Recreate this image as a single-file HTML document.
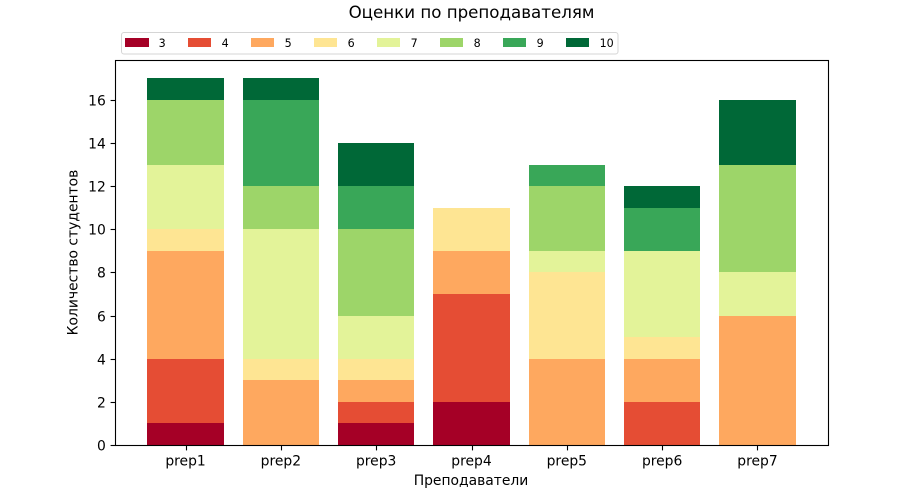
<!DOCTYPE html>
<html>
<head>
<meta charset="utf-8">
<style>
html,body{margin:0;padding:0;background:#fff;}
svg{display:block;}
text{font-family:"DejaVu Sans","Liberation Sans",sans-serif;fill:#000;}
</style>
</head>
<body>
<svg id="chart" width="919" height="500" viewBox="0 0 919 500" xmlns="http://www.w3.org/2000/svg">
<rect x="0" y="0" width="919" height="500" fill="#ffffff"/>
<text x="471.5" y="18" font-size="16.67" text-anchor="middle">Оценки по преподавателям</text>
<g id="bars" shape-rendering="crispEdges"></g>
<g id="axes"></g>
<text x="471" y="485" font-size="13.89" text-anchor="middle">Преподаватели</text>
<text x="0" y="0" font-size="13.89" text-anchor="middle" transform="translate(77.5 252.5) rotate(-90)">Количество студентов</text>
<g id="legend"></g>
</svg>
<script>
const teachers = ['prep1','prep2','prep3','prep4','prep5','prep6','prep7'];
const grades = ['3','4','5','6','7','8','9','10'];
const grade3 = [1,0,1,2,0,0,0];
const grade4 = [3,0,1,5,0,2,0];
const grade5 = [5,3,1,2,4,2,6];
const grade6 = [1,1,1,2,4,1,0];
const grade7 = [3,6,2,0,1,4,2];
const grade8 = [3,2,4,0,3,0,5];
const grade9 = [0,4,2,0,1,2,0];
const grade10 = [1,1,2,0,0,1,3];
const yTicks = [0,2,4,6,8,10,12,14,16];
const gradeColors = ['#a50026','#e54d34','#fea85f','#fee593','#e3f399','#9dd569','#39a758','#006837'];

const seriesValues = [grade3,grade4,grade5,grade6,grade7,grade8,grade9,grade10];
const NS = 'http://www.w3.org/2000/svg';
const plot = {left:115,right:828,top:60,bottom:445};
const barWidthUnits = 0.8;

const totals = teachers.map((_,i)=>seriesValues.reduce((s,v)=>s+v[i],0));
const yMax = Math.max.apply(null,totals)*1.05;
const xMin = -barWidthUnits/2-(teachers.length-1+barWidthUnits)*0.05;
const xMax = teachers.length-1+barWidthUnits/2+(teachers.length-1+barWidthUnits)*0.05;
const xScale = v => plot.left+(v-xMin)/(xMax-xMin)*(plot.right-plot.left);
const yScale = v => plot.bottom-v/yMax*(plot.bottom-plot.top);

function make(tag,attrs,parent,txt){
  const el=document.createElementNS(NS,tag);
  for(const k in attrs){el.setAttribute(k,attrs[k]);}
  if(txt!==undefined){el.textContent=txt;}
  parent.appendChild(el);
  return el;
}

const barsG=document.getElementById('bars');
teachers.forEach((t,i)=>{
  let base=0;
  seriesValues.forEach((vals,s)=>{
    const v=vals[i];
    if(v>0){
      const x0=Math.round(xScale(i-barWidthUnits/2)),x1=Math.round(xScale(i+barWidthUnits/2));
      const y0=Math.round(yScale(base+v)),y1=Math.round(yScale(base));
      const r=make('rect',{x:x0,y:y0,width:x1-x0,height:y1-y0,fill:gradeColors[s]},barsG);
      
      
    }
    base+=v;
  });
});

const axesG=document.getElementById('axes');
const frame=make('rect',{x:plot.left+0.5,y:plot.top+0.5,width:plot.right-plot.left,height:plot.bottom-plot.top,fill:'none',stroke:'#000','stroke-width':1.1},axesG);



yTicks.forEach(v=>{
  const y=Math.round(yScale(v))+0.5;
  const tick=make('line',{x1:plot.left-4.4,x2:plot.left+0.5,y1:y,y2:y,stroke:'#000','stroke-width':1.1},axesG);
  
  
  const label=make('text',{x:plot.left-9.2,y:y+5,'font-size':13.89,'text-anchor':'end'},axesG,String(v));
  
  
});

teachers.forEach((t,i)=>{
  const x=Math.round(xScale(i))+0.5;
  const tick=make('line',{x1:x,x2:x,y1:plot.bottom+0.5,y2:plot.bottom+5.4,stroke:'#000','stroke-width':1.1},axesG);
  
  
  const label=make('text',{x:xScale(i),y:plot.bottom+20.5,'font-size':13.89,'text-anchor':'middle'},axesG,t);
  
  
});

const legendG=document.getElementById('legend');
const box=make('rect',{x:121.5,y:32.5,width:496.5,height:21.5,rx:2.5,ry:2.5,fill:'#fff',stroke:'#d5d5d5','stroke-width':1},legendG);


grades.forEach((g,i)=>{
  const x=125+i*63;
  const sw=make('rect',{x:x,y:38,width:i===0?24:23,height:9,fill:gradeColors[i],'shape-rendering':'crispEdges'},legendG);
  
  
  const label=make('text',{x:x+33.6,y:47,'font-size':11.11},legendG,g);
  
  
});
</script>
</body>
</html>
